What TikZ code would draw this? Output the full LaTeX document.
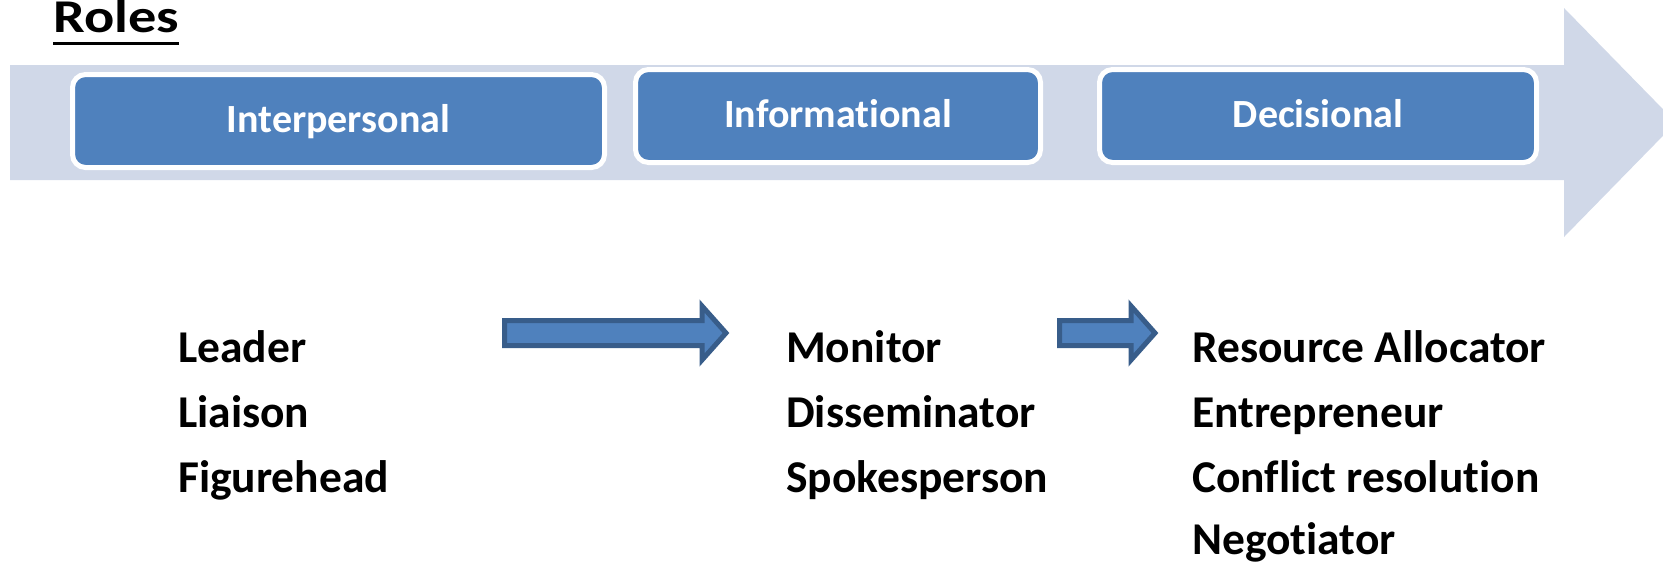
\documentclass[tikz,border=0pt]{standalone}
\usepackage{fontspec}
\setmainfont{Carlito}[Ligatures={NoCommon}]
\definecolor{barfill}{RGB}{208,216,232}
\definecolor{boxblue}{RGB}{79,129,189}
\definecolor{arrowedge}{RGB}{56,93,138}
\tikzset{
  rolebox/.style={draw=white, line width=5pt, fill=boxblue, rounded corners=13pt,
    text=white, font=\fontsize{40}{48}\selectfont\bfseries,
    minimum height=93pt, text height=22pt, text depth=0pt, inner sep=0pt},
  item/.style={anchor=base west, inner sep=0pt, font=\fontsize{45.5}{54}\selectfont\bfseries},
  blockarrow/.style={fill=boxblue, draw=arrowedge, line width=5pt, line join=miter}
}
\begin{document}
\begin{tikzpicture}[x=1pt,y=-1pt]
\useasboundingbox (0,0) rectangle (1663,565);
\clip (0,0) rectangle (1663,565);

% title
\node[anchor=base west, inner sep=0pt, xscale=1.2, transform shape,
  font=\fontsize{47}{56}\selectfont\bfseries] (roles) at (53,32) {Roles};
\draw[line width=3pt] ([yshift=-11pt]roles.base west) -- ([yshift=-11pt]roles.base east);

% background timeline arrow
\fill[barfill] (10,65) -- (1564,65) -- (1564,8) -- (1676,122.5) -- (1564,237)
  -- (1564,180) -- (10,180) -- cycle;

% role categories
\node[rolebox, minimum width=532pt] (inter) at (338.5,121) {Interpersonal};
\node[rolebox, minimum width=405pt] (info)  at (838,116)   {Informational};
\node[rolebox, minimum width=437pt] (deci)  at (1318,116)  {Decisional};

% block arrows between the lists
\draw[blockarrow] (504.5,320.5) -- (702,320.5) -- (702,306) -- (726,333)
  -- (702,360) -- (702,345.5) -- (504.5,345.5) -- cycle;
\draw[blockarrow] (1059.5,320.5) -- (1131,320.5) -- (1131,306) -- (1155,333)
  -- (1131,360) -- (1131,345.5) -- (1059.5,345.5) -- cycle;

% interpersonal roles
\node[item] (leader)  at (178,362) {Leader};
\node[item] (liaison) at (178,427) {Liaison};
\node[item] (figure)  at (178,492) {Figurehead};

% informational roles
\node[item] (monitor) at (786,362) {Monitor};
\node[item] (dissem)  at (786,427) {Disseminator};
\node[item] (spokes)  at (786,492) {Spokesperson};

% decisional roles
\node[item] (resalloc) at (1192,362) {Resource Allocator};
\node[item] (entre)    at (1192,427) {Entrepreneur};
\node[item] (conflict) at (1192,492) {Conflict resolution};
\node[item] (negot)    at (1192,554) {Negotiator};
\end{tikzpicture}
\end{document}
